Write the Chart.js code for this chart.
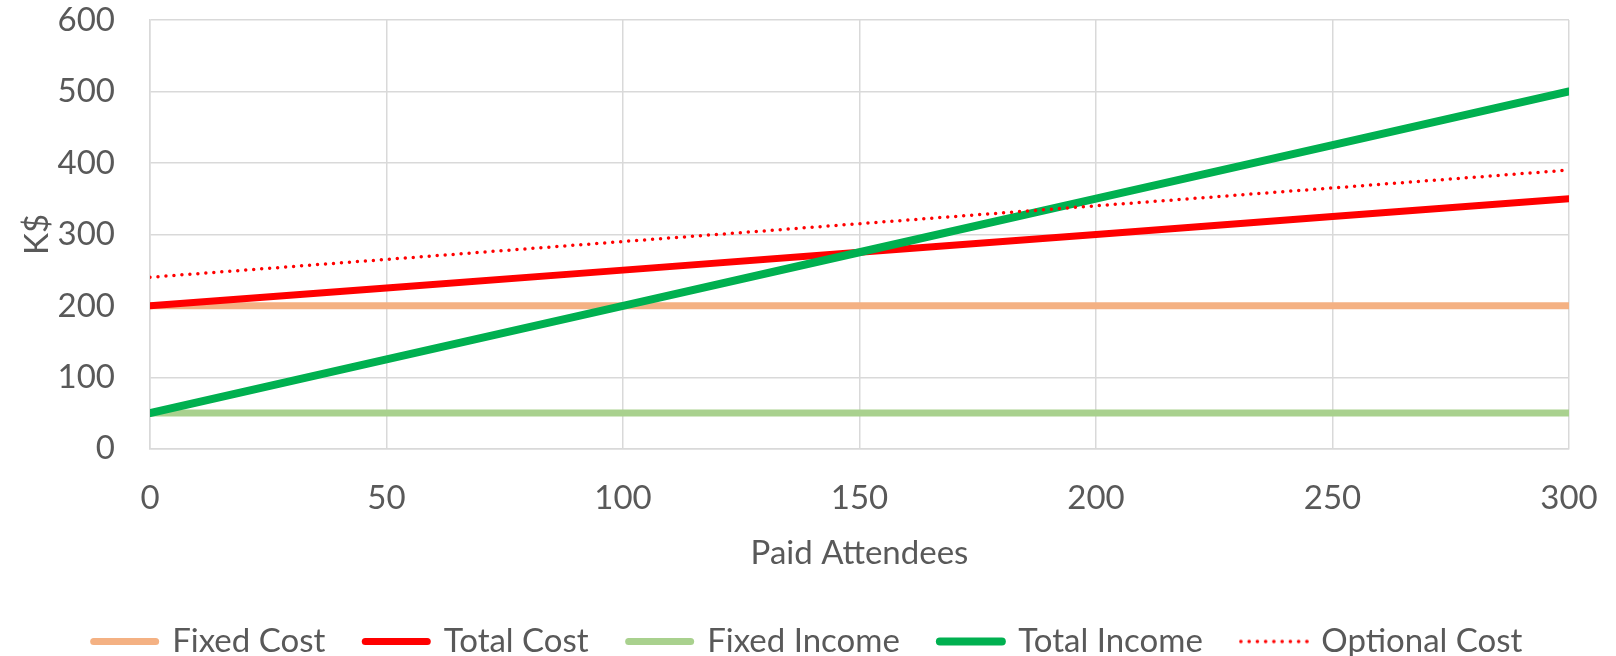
<!DOCTYPE html>
<html>
<head>
<meta charset="utf-8">
<script src="https://cdn.jsdelivr.net/npm/chart.js@4.4.0/dist/chart.umd.min.js"></script>
<style>
  html, body { margin: 0; padding: 0; background: #fff; }
  #wrap { width: 1616px; height: 656px; }
</style>
</head>
<body>
<div id="wrap"><canvas id="grafik" width="1616" height="656"></canvas></div>
<script>
const attendees = [0, 50, 100, 150, 200, 250, 300];
const fixedCost = [200, 200, 200, 200, 200, 200, 200];
const totalCost = [200, 225, 250, 275, 300, 325, 350];
const fixedIncome = [50, 50, 50, 50, 50, 50, 50];
const totalIncome = [50, 125, 200, 275, 350, 425, 500];
const optionalCost = [240, 265, 290, 315, 340, 365, 390];

const yTicks = [0, 100, 200, 300, 400, 500, 600];

const abu = '#595959';
const garis = '#D9D9D9';
const huruf = 'Lato, "Open Sans", sans-serif';

function titik(arr) {
  return attendees.map((x, i) => ({ x, y: arr[i] }));
}

// contoh garis titik-titik untuk legenda
function contohTitik(warna) {
  const c = document.createElement('canvas');
  c.width = 70; c.height = 6;
  const g = c.getContext('2d');
  g.fillStyle = warna;
  for (let i = 0; i < 9; i++) {
    g.beginPath();
    g.arc(2 + i * 8.25, 3, 1.8, 0, Math.PI * 2);
    g.fill();
  }
  return c;
}

// legenda dipusatkan ke seluruh lebar kanvas, bukan hanya area kiri
const legendaPenuh = {
  id: 'legendaPenuh',
  afterLayout(chart) {
    chart.legend.left = 0;
    chart.legend.right = chart.width;
    chart.legend.width = chart.width;
  }
};

const ctx = document.getElementById('grafik').getContext('2d');
window.grafik = new Chart(ctx, {
  type: 'line',
  data: {
    datasets: [
      { label: 'Fixed Cost', data: titik(fixedCost), borderColor: '#F4B183', backgroundColor: '#F4B183', borderWidth: 7, order: 5 },
      { label: 'Total Cost', data: titik(totalCost), borderColor: '#FF0000', backgroundColor: '#FF0000', borderWidth: 7, order: 4 },
      { label: 'Fixed Income', data: titik(fixedIncome), borderColor: '#A9D18E', backgroundColor: '#A9D18E', borderWidth: 7, order: 3 },
      { label: 'Total Income', data: titik(totalIncome), borderColor: '#00B050', backgroundColor: '#00B050', borderWidth: 8, order: 2 },
      { label: 'Optional Cost', data: titik(optionalCost), borderColor: '#FF0000', backgroundColor: '#FF0000', borderWidth: 3.5, borderDash: [0, 8], order: 1 }
    ].map(d => Object.assign({ pointRadius: 0, pointHoverRadius: 0, borderCapStyle: 'round', tension: 0, pointStyle: 'line' }, d))
  },
  plugins: [legendaPenuh],
  options: {
    responsive: false,
    animation: false,
    layout: { padding: { left: 0, right: 47, top: 20, bottom: -12 } },
    plugins: {
      tooltip: { enabled: false },
      legend: {
        position: 'bottom',
        labels: {
          usePointStyle: true,
          pointStyleWidth: 62,
          boxHeight: 8,
          padding: 40,
          color: abu,
          font: { family: huruf, size: 33 },
          sort: (a, b) => a.datasetIndex - b.datasetIndex,
          generateLabels: chart => {
            const items = Chart.defaults.plugins.legend.labels.generateLabels(chart);
            items.forEach(it => {
              const ds = chart.data.datasets[it.datasetIndex];
              it.lineWidth = ds.borderWidth;
              it.lineCap = 'round';
              if (ds.borderDash) it.pointStyle = contohTitik(ds.borderColor);
            });
            return items;
          }
        }
      }
    },
    scales: {
      x: {
        type: 'linear',
        min: 0,
        max: 300,
        ticks: { stepSize: 50, color: abu, padding: 0, font: { family: huruf, size: 33 } },
        grid: { color: garis, lineWidth: 1.5, drawTicks: true, tickLength: 30, tickColor: 'rgba(0,0,0,0)' },
        border: { color: garis, width: 1.5 },
        title: { display: true, text: 'Paid Attendees', color: abu, padding: { top: 15, bottom: 12 }, font: { family: huruf, size: 33 } }
      },
      y: {
        min: 0,
        max: 600,
        afterBuildTicks: s => { s.ticks = yTicks.map(v => ({ value: v })); },
        afterFit: s => { s.width = 150; },
        ticks: { color: abu, padding: 0, font: { family: huruf, size: 33 } },
        grid: { color: garis, lineWidth: 1.5, drawTicks: true, tickLength: 35, tickColor: 'rgba(0,0,0,0)' },
        border: { color: garis, width: 1.5 },
        title: { display: true, text: 'K$', color: abu, padding: { top: 18, bottom: 0 }, font: { family: huruf, size: 33 } }
      }
    }
  }
});
</script>
</body>
</html>
